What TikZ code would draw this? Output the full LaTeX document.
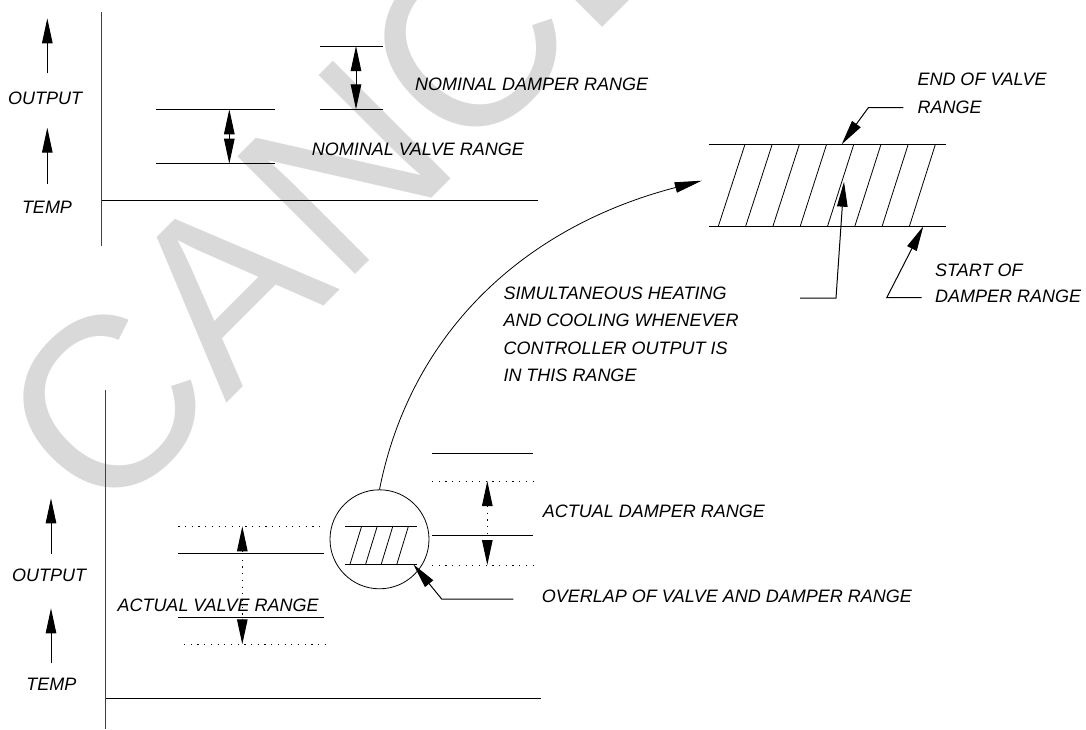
\documentclass[tikz,border=0pt]{standalone}
\usepackage{fontspec}
\setmainfont{Liberation Sans}
\usetikzlibrary{arrows.meta}
\begin{document}
\begin{tikzpicture}[x=1pt,y=-1pt,
  lbl/.style={anchor=west,inner sep=0pt,font=\fontsize{18}{21}\selectfont\itshape},
  ln/.style={line width=1pt},
  ax/.style={line width=1pt,draw=black!75},
  dl/.style={line width=1pt,dash pattern=on 1.2pt off 5.5pt},
  ah/.style={line width=1pt,-{Triangle[length=25pt,width=10.5pt]}},
  dah/.style={line width=1pt,{Triangle[length=25pt,width=10.5pt]}-{Triangle[length=25pt,width=10.5pt]}},
  thin/.style={line width=0.8pt}]
\useasboundingbox (0,0) rectangle (1086,729);
% watermark
\begin{scope}
  \clip (0,0) rectangle (1086,729);
  \node[rotate=45,anchor=base west,inner sep=0pt,text=black!15,
        font=\fontsize{242}{242}\selectfont] (wm) at (103.2,526.8) {CANCELLED};
\end{scope}

% ---------- top chart ----------
\draw[ax] (101.7,11.7) -- (101.7,246);
\draw[ln] (101.7,200.3) -- (537.7,200.3);
\coordinate (ta1) at (47.3,73.3); \coordinate (th1) at (47.3,18.3);
\coordinate (ta2) at (47.3,183.7); \coordinate (th2) at (47.3,127.7);
\draw[ah] (ta1) -- (th1);
\draw[ah] (ta2) -- (th2);
\node[lbl,anchor=center] (out1) at (45,98.7) {OUTPUT};
\node[lbl,anchor=center] (temp1) at (47,207.5) {TEMP};
% nominal valve range
\draw[ln] (156,109.3) -- (275,109.3);
\draw[ln] (156,163.7) -- (275,163.7);
\coordinate (nvt) at (229.3,109.3); \coordinate (nvb) at (229.3,163.7);
\draw[dah] (nvt) -- (nvb);
% nominal damper range
\draw[ln] (320,46) -- (383.3,46);
\draw[ln] (320,109.3) -- (383.3,109.3);
\coordinate (ndt) at (356,46); \coordinate (ndb) at (356,109.3);
\draw[dah] (ndt) -- (ndb);
\node[lbl] (ndr) at (415,84.5) {NOMINAL DAMPER RANGE};
\node[lbl] (nvr) at (311.7,148.8) {NOMINAL VALVE RANGE};

% ---------- hatched band ----------
\draw[ln] (709,144.3) -- (946,144.3);
\draw[ln] (709,226.3) -- (946,226.3);
\foreach \k in {0,...,7}{
  \draw[thin] ({718.3+27.3*\k},226.3) -- ({745+27.2*\k},144.3);
}
\node[lbl] (eov1) at (917.3,79.5) {END OF VALVE};
\node[lbl] (eov2) at (917.3,107.5) {RANGE};
\coordinate (eovA) at (903.3,107.7); \coordinate (eovB) at (868.3,107.7);
\coordinate (eovT) at (841.7,144.3);
\draw[ah] (eovA) -- (eovB) -- (eovT);
\coordinate (simA) at (800,298); \coordinate (simB) at (836,298);
\coordinate (simT) at (844,181.7);
\draw[ah] (simA) -- (simB) -- (simT);
\node[lbl] (sod1) at (935,270) {START OF};
\node[lbl] (sod2) at (935,296.7) {DAMPER RANGE};
\coordinate (sodA) at (921.7,297.7); \coordinate (sodB) at (886.7,297.7);
\coordinate (sodT) at (923.3,226.3);
\draw[ah] (sodA) -- (sodB) -- (sodT);

\node[lbl] (s1) at (503.3,293.3) {SIMULTANEOUS HEATING};
\node[lbl] (s2) at (503.3,320.7) {AND COOLING WHENEVER};
\node[lbl] (s3) at (503.3,348.1) {CONTROLLER OUTPUT IS};
\node[lbl] (s4) at (503.3,375.5) {IN THIS RANGE};

% ---------- bottom chart ----------
\draw[ax] (105.7,390) -- (105.7,729);
\draw[ln] (105.7,698.3) -- (541,698.3);
\coordinate (ba1) at (51,554); \coordinate (bh1) at (51,498.3);
\coordinate (ba2) at (51,663.3); \coordinate (bh2) at (51,608.3);
\draw[ah] (ba1) -- (bh1);
\draw[ah] (ba2) -- (bh2);
\node[lbl,anchor=center] (out2) at (49,575.5) {OUTPUT};
\node[lbl,anchor=center] (temp2) at (51.3,684.7) {TEMP};
% actual valve range
\draw[dl] (178.3,526.3) -- (320,526.3);
\draw[ln] (178.3,553) -- (324,553);
\draw[ln] (178.3,617) -- (324,617);
\draw[dl] (184,644.3) -- (325,644.3);
\draw[dl] (242.3,553) -- (242.3,618);
\draw[ah] (242.3,552) -- (242.3,526.3);
\draw[ah] (242.3,619) -- (242.3,644.3);
\node[lbl] (avr) at (117.3,605.7) {ACTUAL VALVE RANGE};
% actual damper range
\draw[ln] (432.3,453.3) -- (532.7,453.3);
\draw[dl] (432,481) -- (534,481);
\draw[ln] (432.3,535.3) -- (532.7,535.3);
\draw[dl] (432,565) -- (534,565);
\draw[dl] (487.3,506) -- (487.3,540);
\draw[ah] (487.3,506) -- (487.3,481);
\draw[ah] (487.3,540) -- (487.3,565);
\node[lbl] (adr) at (542.7,511) {ACTUAL DAMPER RANGE};
% magnifier circle
\node[draw,thin,circle,minimum size=99pt,inner sep=0pt] (circ) at (379.5,539.3) {};
\draw[thin] (345,526) -- (416.7,526);
\draw[thin] (345,564.3) -- (416.7,564.3);
\foreach \k in {0,...,3}{
  \draw[thin] ({350+15.6*\k},564.3) -- ({361.7+15.6*\k},526);
}
\node[lbl] (ovl) at (541.7,596.7) {OVERLAP OF VALVE AND DAMPER RANGE};
\coordinate (ovA) at (513.3,599); \coordinate (ovB) at (441.7,599);
\coordinate (ovT) at (413.3,564.3);
\draw[ah] (ovA) -- (ovB) -- (ovT);
% curved arrow
\coordinate (cvT) at (701.7,180.7);
\draw[thin,-{Triangle[length=27pt,width=10.5pt]}] (circ.north) .. controls (410,336) and (520,228) .. (cvT);
\end{tikzpicture}
\end{document}
